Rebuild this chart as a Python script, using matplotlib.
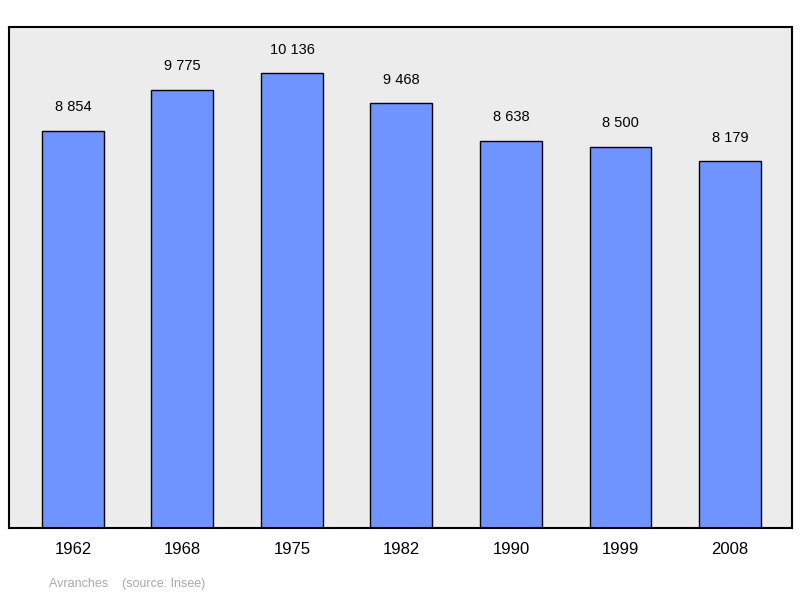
import matplotlib.pyplot as plt

years = ['1962', '1968', '1975', '1982', '1990', '1999', '2008']
population = [8854, 9775, 10136, 9468, 8638, 8500, 8179]

fig = plt.figure(figsize=(8, 5.98), dpi=100)
ax = fig.add_axes([9/800, 1 - 528/598, 783/800, 501/598])
ax.set_facecolor('#ececec')

x = list(range(len(years)))
ax.bar(x, population, width=0.566, color='#7094ff', edgecolor='black', linewidth=1)

for i, v in enumerate(population):
    label = f'{v:,}'.replace(',', ' ')
    ax.annotate(label, (i, v), xytext=(0, 12), textcoords='offset points',
                ha='center', va='bottom', fontsize=10.5, family='Liberation Sans')

ax.set_xlim(-0.584, 6.566)
ax.set_ylim(0, 11173)
ax.set_xticks(x)
ax.set_xticklabels(years, fontsize=12, family='Liberation Sans')
ax.tick_params(axis='x', length=0, pad=10)
ax.set_yticks([])
for s in ax.spines.values():
    s.set_linewidth(1.5)

fig.text(49/800, 1 - 584/598, 'Avranches    (source: Insee)', color='#aaaaaa',
         fontsize=9, family='Liberation Sans', va='center')

fig.savefig('out.png', dpi=100)
